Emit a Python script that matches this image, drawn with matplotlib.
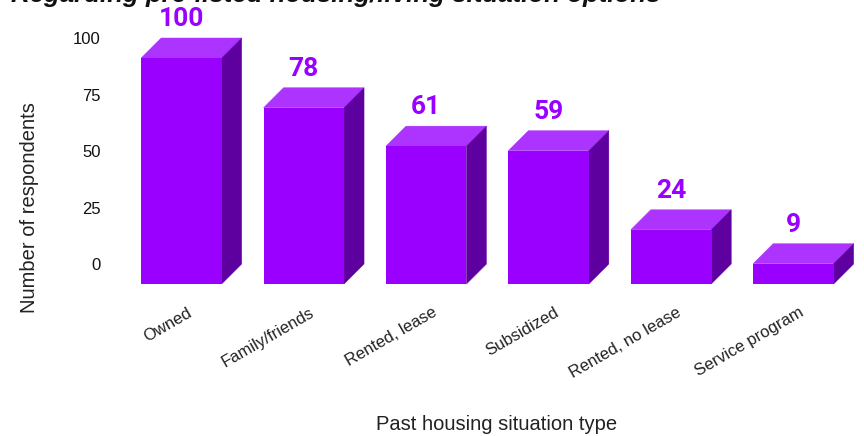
import matplotlib
matplotlib.use('Agg')
import matplotlib.pyplot as plt
from matplotlib.patches import Polygon
from matplotlib.transforms import ScaledTranslation

categories = ['Owned', 'Family/friends', 'Rented, lease', 'Subsidized', 'Rented, no lease', 'Service program']
values = [100, 78, 61, 59, 24, 9]
y_ticks = [0, 25, 50, 75, 100]
title = 'Regarding pre-listed housing/living situation options'

W, H = 864, 436
plt.rcParams['font.family'] = ['Liberation Sans', 'DejaVu Sans']
fig = plt.figure(figsize=(W / 100, H / 100), dpi=100)

# axes geometry in pixels
left, right, top, bottom = 120, 864, 0, 300
ax = fig.add_axes([left / W, 1 - bottom / H, (right - left) / W, (bottom - top) / H])
px_per_val = 2.26
px_per_cat = 122.4
x0_px, y0_px = 181.4, 264
ax.set_xlim((left - x0_px) / px_per_cat, (right - x0_px) / px_per_cat)
ax.set_ylim((y0_px - bottom) / px_per_val, (y0_px - top) / px_per_val)
for s in ax.spines.values():
    s.set_visible(False)

bw = 80.5 / px_per_cat
dx = 20 / px_per_cat
dy = 20 / px_per_val
FRONT, TOP, SIDE = '#9900FF', '#AD33FF', '#5E00A0'

for i, v in enumerate(values):
    xl, xr = i - bw / 2, i + bw / 2
    front_top = v - dy
    ax.add_patch(Polygon([(xl, front_top), (xr, front_top), (xr + dx, v), (xl + dx, v)],
                         closed=True, fc=TOP, ec=TOP, lw=0.3, zorder=2))
    ax.add_patch(Polygon([(xr, -dy), (xr + dx, 0), (xr + dx, v), (xr, front_top)],
                         closed=True, fc=SIDE, ec=SIDE, lw=0.3, zorder=2))
    ax.bar(i, v, bw, bottom=-dy, color=FRONT, linewidth=0, zorder=3)
    ax.annotate(str(v), (i, v), xytext=(0, 5), textcoords='offset points', ha='center', va='bottom',
                fontsize=19, fontweight='bold', color='#9900FF', family='Roboto',
                annotation_clip=False)

ax.set_yticks(y_ticks)
ax.tick_params(axis='y', length=0, pad=14, labelsize=12, labelcolor='#111111')
ax.set_xticks(range(len(categories)))
ax.set_xticklabels(categories, rotation=30, ha='right', rotation_mode='anchor', fontsize=12, color='#222222')
ax.tick_params(axis='x', length=0, pad=3.5)
shift = ScaledTranslation(5.5 / 100, 0, fig.dpi_scale_trans)
for lab in ax.get_xticklabels():
    lab.set_transform(lab.get_transform() + shift)

fig.text(30 / W, 1 - 208 / H, 'Number of respondents', rotation=90, ha='center', va='center',
         fontsize=14.5, color='#222222')
fig.text(497 / W, 1 - 424 / H, 'Past housing situation type', ha='center', va='center',
         fontsize=14.5, color='#222222')
fig.text(336 / W, 1 + 5 / H, title, ha='center', va='center', fontsize=18.6,
         fontweight='bold', fontstyle='italic', color='#111111')

fig.savefig('out.png', dpi=100)
